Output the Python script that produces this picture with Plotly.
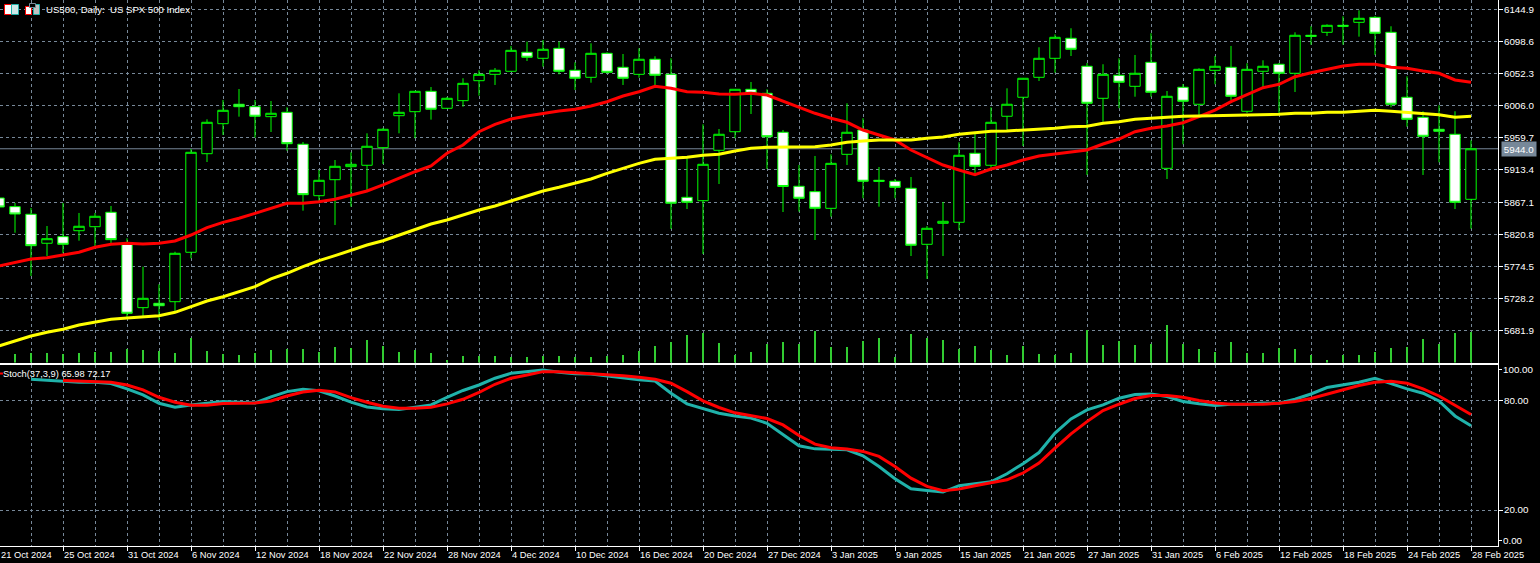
import plotly.graph_objects as go

labels = ["21 Oct 2024","25 Oct 2024","31 Oct 2024","6 Nov 2024","12 Nov 2024","18 Nov 2024","22 Nov 2024","28 Nov 2024",
          "4 Dec 2024","10 Dec 2024","16 Dec 2024","20 Dec 2024","27 Dec 2024","3 Jan 2025","9 Jan 2025","15 Jan 2025",
          "21 Jan 2025","27 Jan 2025","31 Jan 2025","6 Feb 2025","12 Feb 2025","18 Feb 2025","24 Feb 2025","28 Feb 2025"]
price_ticks = [6144.9,6098.6,6052.3,6006.0,5959.7,5913.4,5867.1,5820.8,5774.5,5728.2,5681.9]
last_price = 5944.0

open_ = [5873.0,5860.5,5849.5,5807.7,5817.2,5825.8,5831.6,5852.4,5806.7,5714.8,
         5721.1,5723.4,5794.7,5936.9,5980.2,6008.2,6004.7,5990.3,5996.6,5950.5,
         5876.3,5899.4,5918.2,5920.2,5945.6,5991.7,5997.5,6026.9,6002.4,6013.4,
         6042.2,6051.4,6055.8,6083.2,6074.5,6088.9,6057.2,6047.1,6081.7,6061.5,
         6051.4,6073.1,6051.4,5874.0,5869.1,5941.8,5968.6,6029.8,6024.0,5967.8,
         5889.9,5882.1,5858.1,5936.0,5971.1,5898.5,5897.1,5887.0,5806.2,5836.5,
         5838.0,5937.5,5920.2,5990.9,6018.3,6047.1,6074.5,6103.4,6063.0,6016.8,
         6050.0,6034.1,6068.7,5915.8,6032.7,6008.2,6057.2,6061.5,5998.1,6055.8,
         6065.9,6052.9,6107.7,6112.0,6122.1,6126.4,6133.6,6112.0,6018.3,5989.4,
         5972.1,5964.9,5871.1]
close = [5860.0,5849.9,5804.2,5814.3,5806.2,5832.2,5846.6,5812.9,5706.7,5728.3,
         5717.6,5793.2,5938.9,5982.2,5999.5,6004.7,5990.9,5995.2,5951.3,5877.8,
         5898.5,5918.7,5921.6,5947.6,5972.1,5996.6,6026.9,6001.0,6016.8,6038.4,
         6051.4,6057.2,6086.0,6076.0,6087.5,6055.8,6045.7,6081.7,6054.3,6045.7,
         6073.1,6050.0,5865.4,5866.8,5921.6,5964.9,6029.8,6024.0,5961.4,5889.6,
         5872.6,5858.1,5923.0,5967.8,5897.1,5897.1,5888.4,5804.8,5829.3,5839.4,
         5934.6,5918.7,5982.2,6008.2,6045.7,6074.5,6104.8,6087.5,6009.6,6051.4,
         6039.9,6052.9,6025.5,6019.7,6012.5,6058.6,6063.0,6019.7,6058.6,6063.0,
         6052.9,6107.7,6106.2,6122.1,6120.7,6132.2,6110.6,6008.2,5986.5,5962.0,
         5969.2,5866.8,5944.0]
high = [5875.9,5865.8,5858.6,5832.6,5865.8,5851.4,5851.4,5861.5,5814.9,5773.9,
        5748.5,5795.5,5943.7,5986.5,6014.4,6030.2,6014.4,6012.9,6003.8,5953.8,
        5913.4,5927.8,5938.9,5966.3,5974.0,6024.0,6027.3,6033.1,6018.7,6045.7,
        6057.2,6060.5,6092.3,6098.5,6100.9,6098.5,6068.7,6096.1,6083.2,6080.7,
        6088.9,6077.4,6074.5,5930.3,5979.3,5972.5,6030.2,6040.3,6029.8,5971.1,
        5920.6,5933.6,5936.0,6009.6,5988.0,5917.7,5900.4,5903.3,5832.6,5867.2,
        5953.3,5968.6,6003.8,6031.2,6046.1,6090.4,6109.1,6117.8,6067.7,6065.9,
        6074.5,6079.3,6110.6,6027.3,6037.4,6060.1,6077.8,6092.3,6067.3,6071.6,
        6067.7,6112.0,6120.7,6123.5,6135.1,6143.7,6135.5,6120.7,6048.5,5998.1,
        6006.7,5998.1,5956.2]
low = [5857.1,5822.9,5760.5,5789.3,5793.7,5811.4,5803.8,5808.1,5699.9,5702.8,
       5697.0,5709.0,5786.0,5924.9,5963.9,5990.3,5960.0,5968.2,5941.2,5854.7,
       5865.8,5834.0,5860.5,5884.5,5922.0,5966.3,5959.1,5986.0,6001.4,6004.7,
       6020.6,6036.0,6054.8,6070.6,6062.4,6051.4,6028.8,6039.3,6052.9,6036.0,
       6046.5,6036.0,5828.3,5857.1,5792.2,5893.2,5959.1,5994.2,5914.8,5852.8,
       5853.3,5812.4,5846.0,5920.6,5872.6,5860.5,5872.6,5789.3,5756.2,5789.3,
       5826.8,5909.1,5916.3,5968.6,5948.0,6041.8,6053.7,6077.8,5906.2,5983.1,
       6002.4,6019.1,6019.1,5900.4,5950.5,5992.7,6037.0,6014.4,5995.6,6032.7,
       5995.6,6025.9,6094.1,6106.7,6094.1,6105.7,6079.3,6003.8,5975.8,5906.2,
       5924.5,5857.1,5828.7]
ma_fast = [5774.9,5780.2,5785.0,5786.9,5790.4,5794.7,5801.9,5806.2,5807.7,5806.7,
           5807.7,5811.0,5819.6,5830.2,5837.9,5843.7,5850.9,5858.1,5865.4,5865.4,
           5867.7,5871.1,5877.3,5883.1,5891.8,5901.4,5910.9,5919.2,5937.5,5949.5,
           5968.6,5979.3,5987.0,5991.3,5995.2,5998.5,6000.9,6005.7,6011.9,6020.1,
           6026.3,6034.1,6031.2,6026.3,6025.5,6023.0,6022.6,6024.0,6021.6,6012.9,
           6003.3,5995.2,5988.0,5982.2,5971.1,5963.9,5956.7,5942.2,5931.7,5920.6,
           5913.4,5906.6,5914.8,5920.6,5927.8,5933.6,5936.5,5939.4,5942.2,5950.9,
           5958.1,5968.6,5973.5,5976.9,5981.6,5990.3,5999.9,6011.9,6021.6,6032.1,
           6037.0,6048.0,6053.7,6059.1,6063.4,6065.9,6065.9,6061.5,6060.1,6056.2,
           6052.9,6043.2,6039.9]
ma_slow = [5659.5,5667.2,5673.9,5679.3,5683.6,5689.8,5693.7,5698.0,5699.9,5701.4,
           5703.2,5708.1,5716.2,5724.4,5730.6,5737.8,5745.1,5756.2,5764.4,5773.9,
           5782.6,5789.8,5798.0,5805.2,5811.4,5819.6,5828.3,5835.5,5841.3,5848.5,
           5855.7,5861.5,5868.7,5876.3,5883.1,5888.4,5894.2,5900.4,5908.6,5915.8,
           5923.0,5928.8,5930.3,5931.7,5934.6,5936.0,5940.8,5944.7,5946.1,5946.1,
           5947.0,5947.0,5949.5,5953.3,5955.2,5956.7,5956.7,5956.7,5959.1,5961.0,
           5964.9,5967.2,5969.2,5969.7,5970.7,5972.1,5973.5,5975.8,5976.4,5980.8,
           5983.1,5986.5,5988.0,5988.8,5990.9,5991.3,5991.7,5992.3,5993.2,5993.7,
           5993.7,5995.2,5995.2,5996.6,5996.6,5998.1,5999.5,5998.1,5996.6,5995.2,
           5993.2,5989.4,5990.9]
volume = [800,830,970,930,830,930,1030,1030,1330,1230,
          1130,930,2430,1130,830,730,970,1230,1330,1330,
          1030,1530,1430,2230,1630,1030,1230,930,300,630,
          630,630,530,530,630,630,530,530,630,730,
          1130,1630,2030,2730,2930,1930,730,1030,1830,2030,
          1830,3130,1530,1530,2130,2430,530,2830,2430,2230,
          1330,1630,1230,730,1630,830,730,930,3230,1730,
          2130,1730,1830,3730,1830,1330,1030,2030,930,930,
          1430,1330,730,230,730,730,1030,1430,1530,2330,
          1830,2930,3030]
stoch_k = [None,None,91.4,90.9,90.2,89.8,89.8,89.1,86.2,82.9,
           78.3,76.2,77.4,78.5,79.3,78.9,78.5,81.8,84.7,86.0,
           85.1,82.3,78.9,76.3,75.3,74.9,76.3,77.4,81.6,85.3,
           88.3,92.0,94.7,95.6,96.5,95.3,94.5,94.3,93.3,92.0,
           91.1,90.5,83.8,78.0,75.3,72.9,71.4,70.2,67.4,61.1,
           55.1,53.4,53.3,52.9,49.6,43.8,37.1,31.6,30.7,29.8,
           33.3,34.3,35.4,39.8,45.3,51.4,62.0,69.8,74.7,77.4,
           81.1,83.1,83.4,82.0,79.3,78.0,77.1,77.8,77.8,78.5,
           78.3,80.5,83.4,86.9,88.2,89.8,92.0,88.9,86.2,83.8,
           79.6,71.4,65.98]
stoch_d = [None,None,None,None,90.7,90.3,89.8,89.8,88.3,85.6,
           81.6,78.9,77.3,77.3,78.2,78.5,78.5,79.6,82.3,84.5,
           85.4,84.5,81.4,78.9,76.7,75.6,75.6,76.2,78.0,80.5,
           84.2,88.7,92.0,93.8,95.6,95.6,95.1,94.7,94.2,93.4,
           92.5,91.4,89.3,84.7,79.6,76.0,73.1,71.4,70.0,66.5,
           60.7,56.0,54.0,53.3,52.0,49.3,43.8,37.4,32.9,30.5,
           31.4,33.3,34.7,36.5,40.2,45.6,53.8,61.6,68.3,74.3,
           77.8,80.9,82.5,82.5,81.6,79.8,78.5,77.8,77.8,77.8,
           78.3,79.3,80.9,83.4,85.8,88.0,89.8,90.3,89.3,86.2,
           82.3,77.4,72.17]

idx = list(range(len(close)))
label_idx = idx[::4]
grid_idx = idx[::2]
FONT = "Liberation Sans"
GRID = "#778899"
W, H, PW, PH = 1540, 563, 1498, 546

fig = go.Figure()
fig.add_trace(go.Bar(x=idx, y=volume, width=0.125, marker=dict(color="#32CD32", line_width=0), yaxis="y3", xaxis="x"))
fig.add_trace(go.Candlestick(x=idx, open=open_, high=high, low=low, close=close, xaxis="x", yaxis="y", whiskerwidth=0,
                             increasing=dict(line=dict(color="#00FF00", width=1), fillcolor="#000000"),
                             decreasing=dict(line=dict(color="#00FF00", width=1), fillcolor="#FFFFFF")))
fig.add_trace(go.Scatter(x=idx, y=ma_fast, mode="lines", line=dict(color="#FF0000", width=3), xaxis="x", yaxis="y"))
fig.add_trace(go.Scatter(x=idx, y=ma_slow, mode="lines", line=dict(color="#FFFF00", width=3), xaxis="x", yaxis="y"))
fig.add_trace(go.Scatter(x=idx, y=stoch_k, mode="lines", line=dict(color="#20B2AA", width=3), xaxis="x2", yaxis="y2"))
fig.add_trace(go.Scatter(x=idx, y=stoch_d, mode="lines", line=dict(color="#FF0000", width=3), xaxis="x2", yaxis="y2"))

def px(v): return v / PW
def py(v): return 1 - v / PH

xr = [1 / 16, 1499 / 16]
common_y = dict(side="right", showline=True, linecolor="#FFFFFF", linewidth=1, ticks="outside", ticklen=4,
                tickcolor="#FFFFFF", tickfont=dict(family=FONT, size=9.8, color="#FFFFFF"), ticklabelstandoff=-1,
                showgrid=True, gridcolor=GRID, griddash="3px,3px", gridwidth=1, zeroline=False, fixedrange=True)

annotations = [
    dict(x=px(45), y=py(9), xref="paper", yref="paper", xanchor="left", yanchor="middle", showarrow=False,
         text="US500, Daily:  US SPX 500 Index", font=dict(family=FONT, size=9.6, color="#FFFFFF"), borderpad=0),
    dict(x=px(2), y=py(373.5), xref="paper", yref="paper", xanchor="left", yanchor="middle", showarrow=False,
         text="Stoch(37,3,9) 65.98 72.17", font=dict(family=FONT, size=9.3, color="#FFFFFF"), borderpad=0),
    dict(x=px(1502), y=py(369.5), xref="paper", yref="paper", xanchor="left", yanchor="middle", showarrow=False,
         text="100.00", font=dict(family=FONT, size=9.8, color="#FFFFFF"), borderpad=0),
    dict(x=px(1502), y=py(540.5), xref="paper", yref="paper", xanchor="left", yanchor="middle", showarrow=False,
         text="0.00", font=dict(family=FONT, size=9.8, color="#FFFFFF"), borderpad=0),
    dict(x=px(1501), y=last_price, xref="paper", yref="y", xanchor="left", yanchor="middle", showarrow=False,
         text=f"{last_price:.1f}", font=dict(family=FONT, size=9.8, color="#FFFFFF"),
         bgcolor=GRID, borderpad=0, width=34, height=14, align="center"),
    dict(x=px(0), y=py(555), xref="paper", yref="paper", xanchor="left", yanchor="middle", showarrow=False,
         text=labels[0], font=dict(family=FONT, size=9.3, color="#FFFFFF"), borderpad=0),
]

def rect(x0, y0, x1, y1, line=None, fill=None):
    return dict(type="rect", xref="paper", yref="paper", x0=px(x0), x1=px(x1), y0=py(y0), y1=py(y1),
                line=dict(color=line or "rgba(0,0,0,0)", width=1), fillcolor=fill or "rgba(0,0,0,0)", layer="above")

shapes = [
    dict(type="line", xref="paper", yref="y", x0=0, x1=1, y0=last_price, y1=last_price,
         line=dict(color=GRID, width=1), layer="below"),
    dict(type="line", xref="paper", yref="paper", x0=1, x1=px(1502), y0=py(369.5), y1=py(369.5), line=dict(color="#FFFFFF", width=1)),
    dict(type="line", xref="paper", yref="paper", x0=1, x1=px(1502), y0=py(540.5), y1=py(540.5), line=dict(color="#FFFFFF", width=1)),
    rect(4.5, 4.5, 11.5, 14.5, line="#FF0000", fill="#FFFFFF"),
    rect(11.5, 4.5, 18.5, 14.5, line="#20B2AA", fill="#CFE8E8"),
    rect(25.5, 6.5, 31.5, 14.5, line="#FF0000", fill="#FFFFFF"),
    rect(33.5, 4.5, 39.5, 14.5, line="#20B2AA", fill="#C0C0C0"),
    rect(29.5, 3.5, 35.5, 7.5, line="#778899", fill="#000000"),
    rect(0, 372.5, 3, 374.5, fill="#FF0000"),
]

fig.update_layout(
    width=W, height=H, margin=dict(l=0, r=W - PW, t=0, b=H - PH, pad=0),
    paper_bgcolor="#000000", plot_bgcolor="#000000", showlegend=False, bargap=0,
    boxgap=0.35, boxgroupgap=0, annotations=annotations, shapes=shapes, hovermode=False,
    xaxis=dict(domain=[0, 1], range=xr, anchor="y", rangeslider=dict(visible=False), showline=True, linecolor="#FFFFFF",
               linewidth=1, showticklabels=False, ticks="", tickmode="array", tickvals=grid_idx, showgrid=True,
               gridcolor=GRID, griddash="3px,3px", gridwidth=1, zeroline=False, fixedrange=True),
    xaxis2=dict(domain=[0, 1], range=xr, anchor="y2", showline=True, mirror=True, linecolor="#FFFFFF", linewidth=1,
                tickmode="array", tickvals=label_idx, ticktext=labels, ticklabelposition="outside right",
                ticks="outside", ticklen=4, tickcolor="#FFFFFF", tickfont=dict(family=FONT, size=9.3, color="#FFFFFF"),
                showgrid=True, gridcolor=GRID, griddash="3px,3px", gridwidth=1, zeroline=False, fixedrange=True,
                minor=dict(tickmode="array", tickvals=grid_idx, showgrid=True, gridcolor=GRID, griddash="3px,3px",
                           gridwidth=1, ticks="")),
    yaxis=dict(domain=[1 - 362.5 / PH, 1], range=[5635.7, 6158.6], anchor="x", tickmode="array",
               tickvals=price_ticks, ticktext=[f"{v:.1f}" for v in price_ticks], **common_y),
    yaxis2=dict(domain=[0, 1 - 364.5 / PH], range=[0.33, 99.5], anchor="x2", tickmode="array",
                tickvals=[80, 20], ticktext=["80.00", "20.00"], **common_y),
    yaxis3=dict(domain=[1 - 362.5 / PH, 1], range=[0, 36250], overlaying="y", side="left", visible=False, fixedrange=True),
)

fig.write_html("out.html", config=dict(displayModeBar=False),
               post_script="document.body.style.margin='0';document.body.style.background='#000';document.documentElement.style.overflow='hidden';")
